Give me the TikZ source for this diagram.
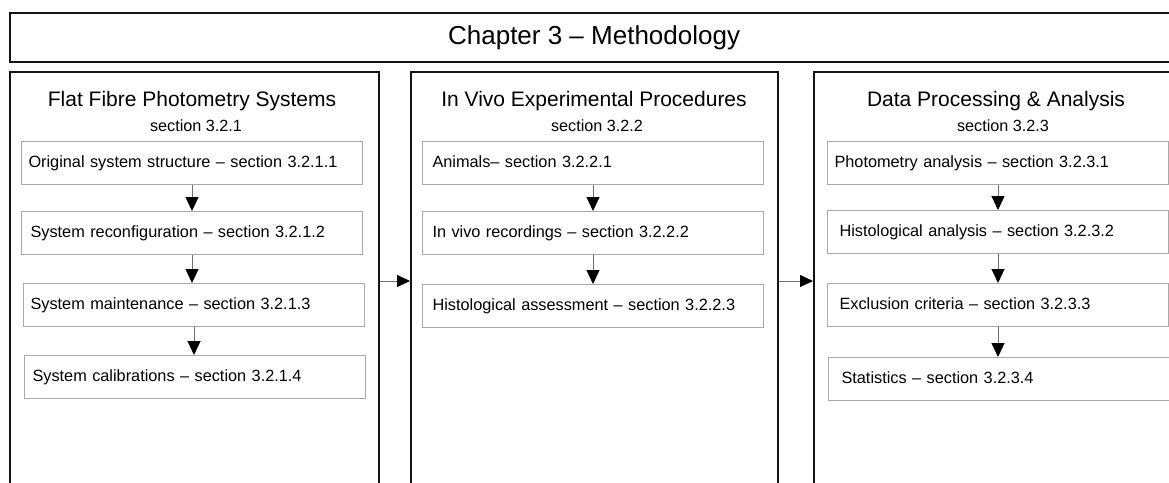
\documentclass[tikz,border=0pt]{standalone}
\usepackage{fontspec}
\setmainfont{Liberation Sans}
\usetikzlibrary{arrows.meta}
\definecolor{ink}{HTML}{141414}
\definecolor{boxgray}{HTML}{A9A9A9}
\definecolor{linegray}{HTML}{6E6E6E}

\begin{document}
\begin{tikzpicture}[x=1pt, y=-1pt,
  frame/.style={draw=ink, line width=2.2pt, anchor=north west, inner sep=0pt},
  column/.style={frame, minimum height=470pt},
  item/.style={draw=boxgray, line width=1pt, anchor=north west, inner xsep=0pt, inner ysep=0pt,
    text width=341pt, minimum height=43pt, align=left, text height=12pt, text depth=3.5pt,
    font=\fontsize{16.3}{19}\selectfont},
  head/.style={anchor=base, inner sep=0pt, font=\fontsize{21}{25}\selectfont},
  sect/.style={anchor=base, inner sep=0pt, font=\fontsize{16.2}{19}\selectfont},
  vconn/.style={draw=linegray, line width=1pt, -{Triangle[length=14pt, width=13pt, color=black]}},
  hconn/.style={draw=linegray, line width=1pt, -{Triangle[length=13pt, width=12pt, color=black]}}
]
\useasboundingbox[fill=white] (0,0) rectangle (1169,482);
\begin{scope}
\clip (0,0) rectangle (1169,482);

% chapter banner
\node[frame, minimum width=1168pt, minimum height=49pt, font=\fontsize{26}{31}\selectfont]
  (title) at (9,12) {Chapter 3 -- Methodology};

% the three section columns
\node[column, minimum width=369pt] (colA) at (9,71) {};
\node[column, minimum width=367pt] (colB) at (410,71) {};
\node[column, minimum width=369pt] (colC) at (813,71) {};

\node[head] (hA) at (192,106) {Flat Fibre Photometry Systems};
\node[sect] (sA) at (196,131) {section 3.2.1};
\node[head] (hB) at (594,106) {In Vivo Experimental Procedures};
\node[sect] (sB) at (597,131) {section 3.2.2};
\node[head] (hC) at (996,106) {Data Processing \& Analysis};
\node[sect] (sC) at (1003,131) {section 3.2.3};

% 3.2.1 subsections
\node[item] (a1) at (21,141) {\hspace*{7pt}Original system structure -- section 3.2.1.1};
\node[item] (a2) at (21,211) {\hspace*{9pt}System reconfiguration -- section 3.2.1.2};
\node[item] (a3) at (23,283) {\hspace*{7pt}System maintenance -- section 3.2.1.3};
\node[item] (a4) at (24,355) {\hspace*{8pt}System calibrations -- section 3.2.1.4};

% 3.2.2 subsections
\node[item] (b1) at (422,141) {\hspace*{10pt}Animals-- section 3.2.2.1};
\node[item] (b2) at (422,211) {\hspace*{10pt}In vivo recordings -- section 3.2.2.2};
\node[item] (b3) at (422,284) {\hspace*{10pt}Histological assessment -- section 3.2.2.3};

% 3.2.3 subsections
\node[item] (c1) at (827,141) {\hspace*{7pt}Photometry analysis -- section 3.2.3.1};
\node[item] (c2) at (827,210) {\hspace*{12pt}Histological analysis -- section 3.2.3.2};
\node[item] (c3) at (827,283) {\hspace*{12pt}Exclusion criteria -- section 3.2.3.3};
\node[item] (c4) at (828,357) {\hspace*{13pt}Statistics -- section 3.2.3.4};

% flow inside each column
\draw[vconn] (a1.south) -- (a1.south |- a2.north);
\draw[vconn] (a2.south) -- (a2.south |- a3.north);
\draw[vconn] (a3.south) -- (a3.south |- a4.north);
\draw[vconn] (b1.south) -- (b1.south |- b2.north);
\draw[vconn] (b2.south) -- (b2.south |- b3.north);
\draw[vconn] (c1.south) -- (c1.south |- c2.north);
\draw[vconn] (c2.south) -- (c2.south |- c3.north);
\draw[vconn] (c3.south) -- (c3.south |- c4.north);

% flow between columns
\coordinate (link) at (0,281);
\draw[hconn] (colA.east |- link) -- (colB.west |- link);
\draw[hconn] (colB.east |- link) -- (colC.west |- link);
\end{scope}
\end{tikzpicture}
\end{document}
